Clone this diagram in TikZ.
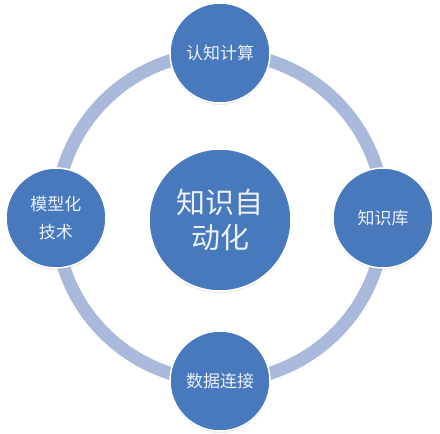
\documentclass[tikz,border=0pt]{standalone}
\usepackage{fontspec}
\setmainfont{Noto Sans CJK SC}
\usetikzlibrary{shadows}
\definecolor{ringc}{RGB}{168,185,220}
\definecolor{ballc}{RGB}{72,121,188}
\definecolor{txtc}{RGB}{236,240,248}
\tikzset{
  ball/.style={circle, fill=ballc, draw=white, line width=1.5pt, text=txtc, align=center, inner sep=0pt,
    drop shadow={shadow xshift=0pt, shadow yshift=-2pt, opacity=0.15}},
  small/.style={ball, minimum size=100pt, font=\fontsize{17}{28}\selectfont},
  big/.style={ball, minimum size=142pt, font=\fontsize{29}{35}\selectfont},
}
\begin{document}
\begin{tikzpicture}[x=1pt,y=-1pt]
\useasboundingbox (0,0) rectangle (440,434);
\fill[white] (0,0) rectangle (440,434);
\coordinate (rc) at (220,217);
\draw[ringc, line width=13pt] (rc) circle[radius=164];
\node[small] (top) at (220,53) {认知计算};
\node[small] (left) at (56,218) {模型化\\技术};
\node[small] (right) at (383,218) {知识库};
\node[small] (bottom) at (220,381) {数据连接};
\node[big] (center) at (220,220) {知识自\\动化};
\end{tikzpicture}
\end{document}
